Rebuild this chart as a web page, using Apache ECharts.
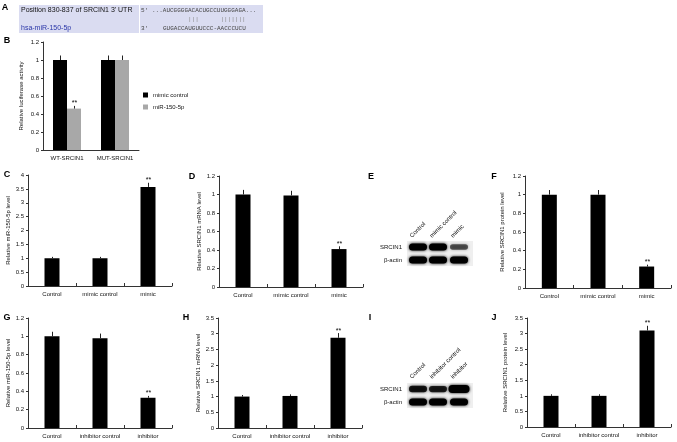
<!DOCTYPE html>
<html><head><meta charset="utf-8">
<script src="https://cdn.jsdelivr.net/npm/echarts@6/dist/echarts.min.js"></script>
<style>html,body{margin:0;padding:0;background:#fff}#c{width:677px;height:442px}</style>
</head><body><div id="c"></div>
<script>
// ---------- data ----------
const catB = ['WT-SRCIN1', 'MUT-SRCIN1'];
const seriesNamesB = ['mimic control', 'miR-150-5p'];
const bCtrl = [1.0, 1.0];
const bCtrlErr = [0.05, 0.05];
const bCtrlSig = [0, 0];
const bMir = [0.46, 1.0];
const bMirErr = [0.03, 0.05];
const bMirSig = [1, 0];

const catMimic = ['Control', 'mimic control', 'mimic'];
const catInh = ['Control', 'inhibitor control', 'inhibitor'];

const cVals = [1.0, 1.0, 3.57], cErr = [0.05, 0.05, 0.15], cSig = [0, 0, 1];
const dVals = [1.0, 0.99, 0.41], dErr = [0.05, 0.05, 0.03], dSig = [0, 0, 1];
const fVals = [1.0, 1.0, 0.23], fErr = [0.05, 0.05, 0.02], fSig = [0, 0, 1];
const gVals = [1.0, 0.98, 0.33], gErr = [0.05, 0.05, 0.02], gSig = [0, 0, 1];
const hVals = [1.0, 1.02, 2.87], hErr = [0.05, 0.05, 0.15], hSig = [0, 0, 1];
const jVals = [1.0, 1.0, 3.10], jErr = [0.05, 0.05, 0.15], jSig = [0, 0, 1];

const yMaxB = 1.2, yIntB = 0.2;
const yMaxC = 4, yIntC = 0.5;
const yMaxD = 1.2, yIntD = 0.2;
const yMaxF = 1.2, yIntF = 0.2;
const yMaxG = 1.2, yIntG = 0.2;
const yMaxH = 3.5, yIntH = 0.5;
const yMaxJ = 3.5, yIntJ = 0.5;

const nameB = 'Relative luciferase activity';
const nameC = 'Relative miR-150-5p level';
const nameD = 'Relative SRCIN1 mRNA level';
const nameF = 'Relative SRCIN1 protein level';
const nameG = 'Relative miR-150-5p level';
const nameH = 'Relative SRCIN1 mRNA level';
const nameJ = 'Relative SRCIN1 protein level';

// western blot band intensities (relative)
const blotRows = ['SRCIN1', 'β-actin'];
const blotELanes = ['Control', 'mimic control', 'mimic'];
const blotESrcin = [1.0, 1.0, 0.45];
const blotEActin = [1.0, 1.0, 1.0];
const blotILanes = ['Control', 'inhibitor control', 'inhibitor'];
const blotISrcin = [0.8, 0.75, 1.3];
const blotIActin = [1.0, 1.0, 1.0];

const seqTitle = "Position 830-837 of SRCIN1 3' UTR";
const seqMiR = 'hsa-miR-150-5p';
const seqTarget = '...AUCGGGGACACUGCCUUGGGAGA...';
const seqPairs = '          |||      |||||||';
const seqMiRSeq = 'GUGACCAUGUUCCC-AACCCUCU';

// ---------- build ----------
const FONT = '"Liberation Sans", Arial, sans-serif';
const AX = '#333';
const chart = echarts.init(document.getElementById('c'), null, {width: 677, height: 442});

function errRender(offset) {
  return function (params, api) {
    const cat = api.value(0), v = api.value(1), e = api.value(2), s = api.value(3);
    const p0 = api.coord([cat, v]);
    const p1 = api.coord([cat, v + e]);
    const x = Math.round(p0[0] + offset) + 0.5;
    const ch = [{type: 'line', shape: {x1: x, y1: p0[1], x2: x, y2: p1[1]}, style: {stroke: '#222', lineWidth: 1}}];
    if (s) ch.push({type: 'text', style: {text: '**', x: x, y: p1[1] + 1, align: 'center', verticalAlign: 'bottom', fontSize: 7, fontFamily: FONT, fill: '#000'}});
    return {type: 'group', children: ch};
  };
}

const grids = [], xAxes = [], yAxes = [], series = [];
function addPanel(g, cats, yMax, yInt, yName, nameGap, xTicks) {
  const i = grids.length;
  grids.push(Object.assign({containLabel: false}, g));
  xAxes.push({
    type: 'category', gridIndex: i, data: cats,
    axisLine: {lineStyle: {color: AX, width: 1}},
    axisTick: {show: xTicks, inside: true, length: 3, lineStyle: {color: AX}},
    axisLabel: {fontSize: 6, color: '#111', margin: 5, fontFamily: FONT, interval: 0}
  });
  yAxes.push({
    type: 'value', gridIndex: i, min: 0, max: yMax, interval: yInt,
    name: yName, nameLocation: 'middle', nameGap: nameGap,
    nameTextStyle: {fontSize: 6, color: '#111', fontFamily: FONT},
    axisLine: {show: true, lineStyle: {color: AX, width: 1}},
    axisTick: {show: true, length: 2, lineStyle: {color: AX}},
    splitLine: {show: false},
    axisLabel: {fontSize: 6, color: '#111', margin: 4, fontFamily: FONT}
  });
  return i;
}
function addSingle(i, vals, errs, sig) {
  series.push({type: 'bar', xAxisIndex: i, yAxisIndex: i, data: vals, barWidth: 15, itemStyle: {color: '#000'}, silent: true});
  series.push({type: 'custom', xAxisIndex: i, yAxisIndex: i, renderItem: errRender(0), clip: false, z: 5, silent: true,
    data: vals.map((v, k) => [k, v, errs[k], sig[k]])});
}

// B
const iB = addPanel({left: 43, top: 42, width: 96, height: 108}, catB, yMaxB, yIntB, nameB, 19, false);
series.push({name: seriesNamesB[0], type: 'bar', xAxisIndex: iB, yAxisIndex: iB, data: bCtrl, barWidth: 14, barGap: '0%', itemStyle: {color: '#000'}, silent: true});
series.push({name: seriesNamesB[1], type: 'bar', xAxisIndex: iB, yAxisIndex: iB, data: bMir, barWidth: 14, barGap: '0%', itemStyle: {color: '#a8a8a8'}, silent: true});
series.push({type: 'custom', xAxisIndex: iB, yAxisIndex: iB, renderItem: errRender(-7), clip: false, z: 5, silent: true, data: bCtrl.map((v, k) => [k, v, bCtrlErr[k], bCtrlSig[k]])});
series.push({type: 'custom', xAxisIndex: iB, yAxisIndex: iB, renderItem: errRender(7), clip: false, z: 5, silent: true, data: bMir.map((v, k) => [k, v, bMirErr[k], bMirSig[k]])});

addSingle(addPanel({left: 28, top: 175, width: 144, height: 111}, catMimic, yMaxC, yIntC, nameC, 15, true), cVals, cErr, cSig);
addSingle(addPanel({left: 219, top: 176, width: 144, height: 111}, catMimic, yMaxD, yIntD, nameD, 16, true), dVals, dErr, dSig);
addSingle(addPanel({left: 525, top: 176, width: 146, height: 112}, catMimic, yMaxF, yIntF, nameF, 20, true), fVals, fErr, fSig);
addSingle(addPanel({left: 28, top: 318, width: 144, height: 110}, catInh, yMaxG, yIntG, nameG, 15, true), gVals, gErr, gSig);
addSingle(addPanel({left: 218, top: 318, width: 144, height: 110}, catInh, yMaxH, yIntH, nameH, 16, true), hVals, hErr, hSig);
addSingle(addPanel({left: 527, top: 318, width: 144, height: 109}, catInh, yMaxJ, yIntJ, nameJ, 19, true), jVals, jErr, jSig);

// ---------- graphics: panel letters, sequence box, blots ----------
const gr = [];
const letters = [['A', 5, 8], ['B', 7, 41], ['C', 7, 175], ['D', 192, 177], ['E', 371, 177], ['F', 494, 177],
                 ['G', 7, 318], ['H', 186, 318], ['I', 370, 318], ['J', 494, 318]];
letters.forEach(l => gr.push({type: 'text', x: l[1], y: l[2], style: {text: l[0], fontSize: 9, fontWeight: 'bold', fontFamily: FONT, fill: '#000', align: 'center', verticalAlign: 'middle'}}));

gr.push({type: 'rect', shape: {x: 19, y: 5, width: 120, height: 28}, style: {fill: '#dadcf1'}});
gr.push({type: 'rect', shape: {x: 140, y: 5, width: 123, height: 28}, style: {fill: '#dadcf1'}});
gr.push({type: 'text', x: 21, y: 10.5, style: {text: seqTitle, fontSize: 7, fontFamily: FONT, fill: '#111', verticalAlign: 'middle'}});
gr.push({type: 'text', x: 21, y: 28, style: {text: seqMiR, fontSize: 7, fontFamily: FONT, fill: '#2a36a8', verticalAlign: 'middle'}});
const MONO = '"Liberation Mono", "DejaVu Sans Mono", monospace';
gr.push({type: 'text', x: 141, y: 10.5, style: {text: "5'", fontSize: 6, fontFamily: MONO, fill: '#444', verticalAlign: 'middle'}});
gr.push({type: 'text', x: 141, y: 28, style: {text: "3'", fontSize: 6, fontFamily: MONO, fill: '#444', verticalAlign: 'middle'}});
gr.push({type: 'text', x: 152, y: 10.5, style: {text: seqTarget, fontSize: 6, fontFamily: MONO, fill: '#444', verticalAlign: 'middle'}});
gr.push({type: 'text', x: 152, y: 19, style: {text: seqPairs, fontSize: 6, fontFamily: MONO, fill: '#888', verticalAlign: 'middle'}});
gr.push({type: 'text', x: 163, y: 28, style: {text: seqMiRSeq, fontSize: 6, fontFamily: MONO, fill: '#444', verticalAlign: 'middle'}});

function blot(x0, rowY, labelY, lanes, srcin, actin) {
  const laneX = [x0 + 10, x0 + 30, x0 + 51];
  gr.push({type: 'rect', shape: {x: x0 - 1, y: rowY - 6, width: 66, height: 25}, style: {fill: '#efefef'}});
  [srcin, actin].forEach((vals, r) => {
    const y = rowY + r * 13;
    gr.push({type: 'text', x: x0 - 6, y: y, style: {text: blotRows[r], fontSize: 6, fontFamily: FONT, fill: '#111', align: 'right', verticalAlign: 'middle'}});
    vals.forEach((v, k) => {
      const h = 4 + 3 * Math.min(v, 1.3);
      const w = 18 + (v > 1 ? 3 : 0);
      const a = Math.min(1, 0.25 + 0.75 * v);
      gr.push({type: 'rect', shape: {x: laneX[k] - w / 2, y: y - h / 2, width: w, height: h, r: h / 2},
        style: {fill: 'rgba(0,0,0,' + a + ')', shadowBlur: 3, shadowColor: 'rgba(0,0,0,' + a + ')'}});
    });
  });
  lanes.forEach((t, k) => {
    gr.push({type: 'text', x: laneX[k] - 5, y: labelY, rotation: Math.PI / 4,
      style: {text: t, fontSize: 6, fontFamily: FONT, fill: '#111', align: 'left', verticalAlign: 'bottom'}});
  });
}
blot(408, 247, 239, blotELanes, blotESrcin, blotEActin);
blot(408, 389, 380, blotILanes, blotISrcin, blotIActin);

chart.setOption({
  animation: false,
  backgroundColor: '#fff',
  textStyle: {fontFamily: FONT},
  grid: grids, xAxis: xAxes, yAxis: yAxes, series: series,
  legend: {data: seriesNamesB, orient: 'vertical', left: 143, top: 92, padding: 0, itemWidth: 5, itemHeight: 5, itemGap: 6, icon: 'rect',
    textStyle: {fontSize: 6, color: '#111', fontFamily: FONT}, selectedMode: false},
  graphic: gr
});
</script></body></html>
